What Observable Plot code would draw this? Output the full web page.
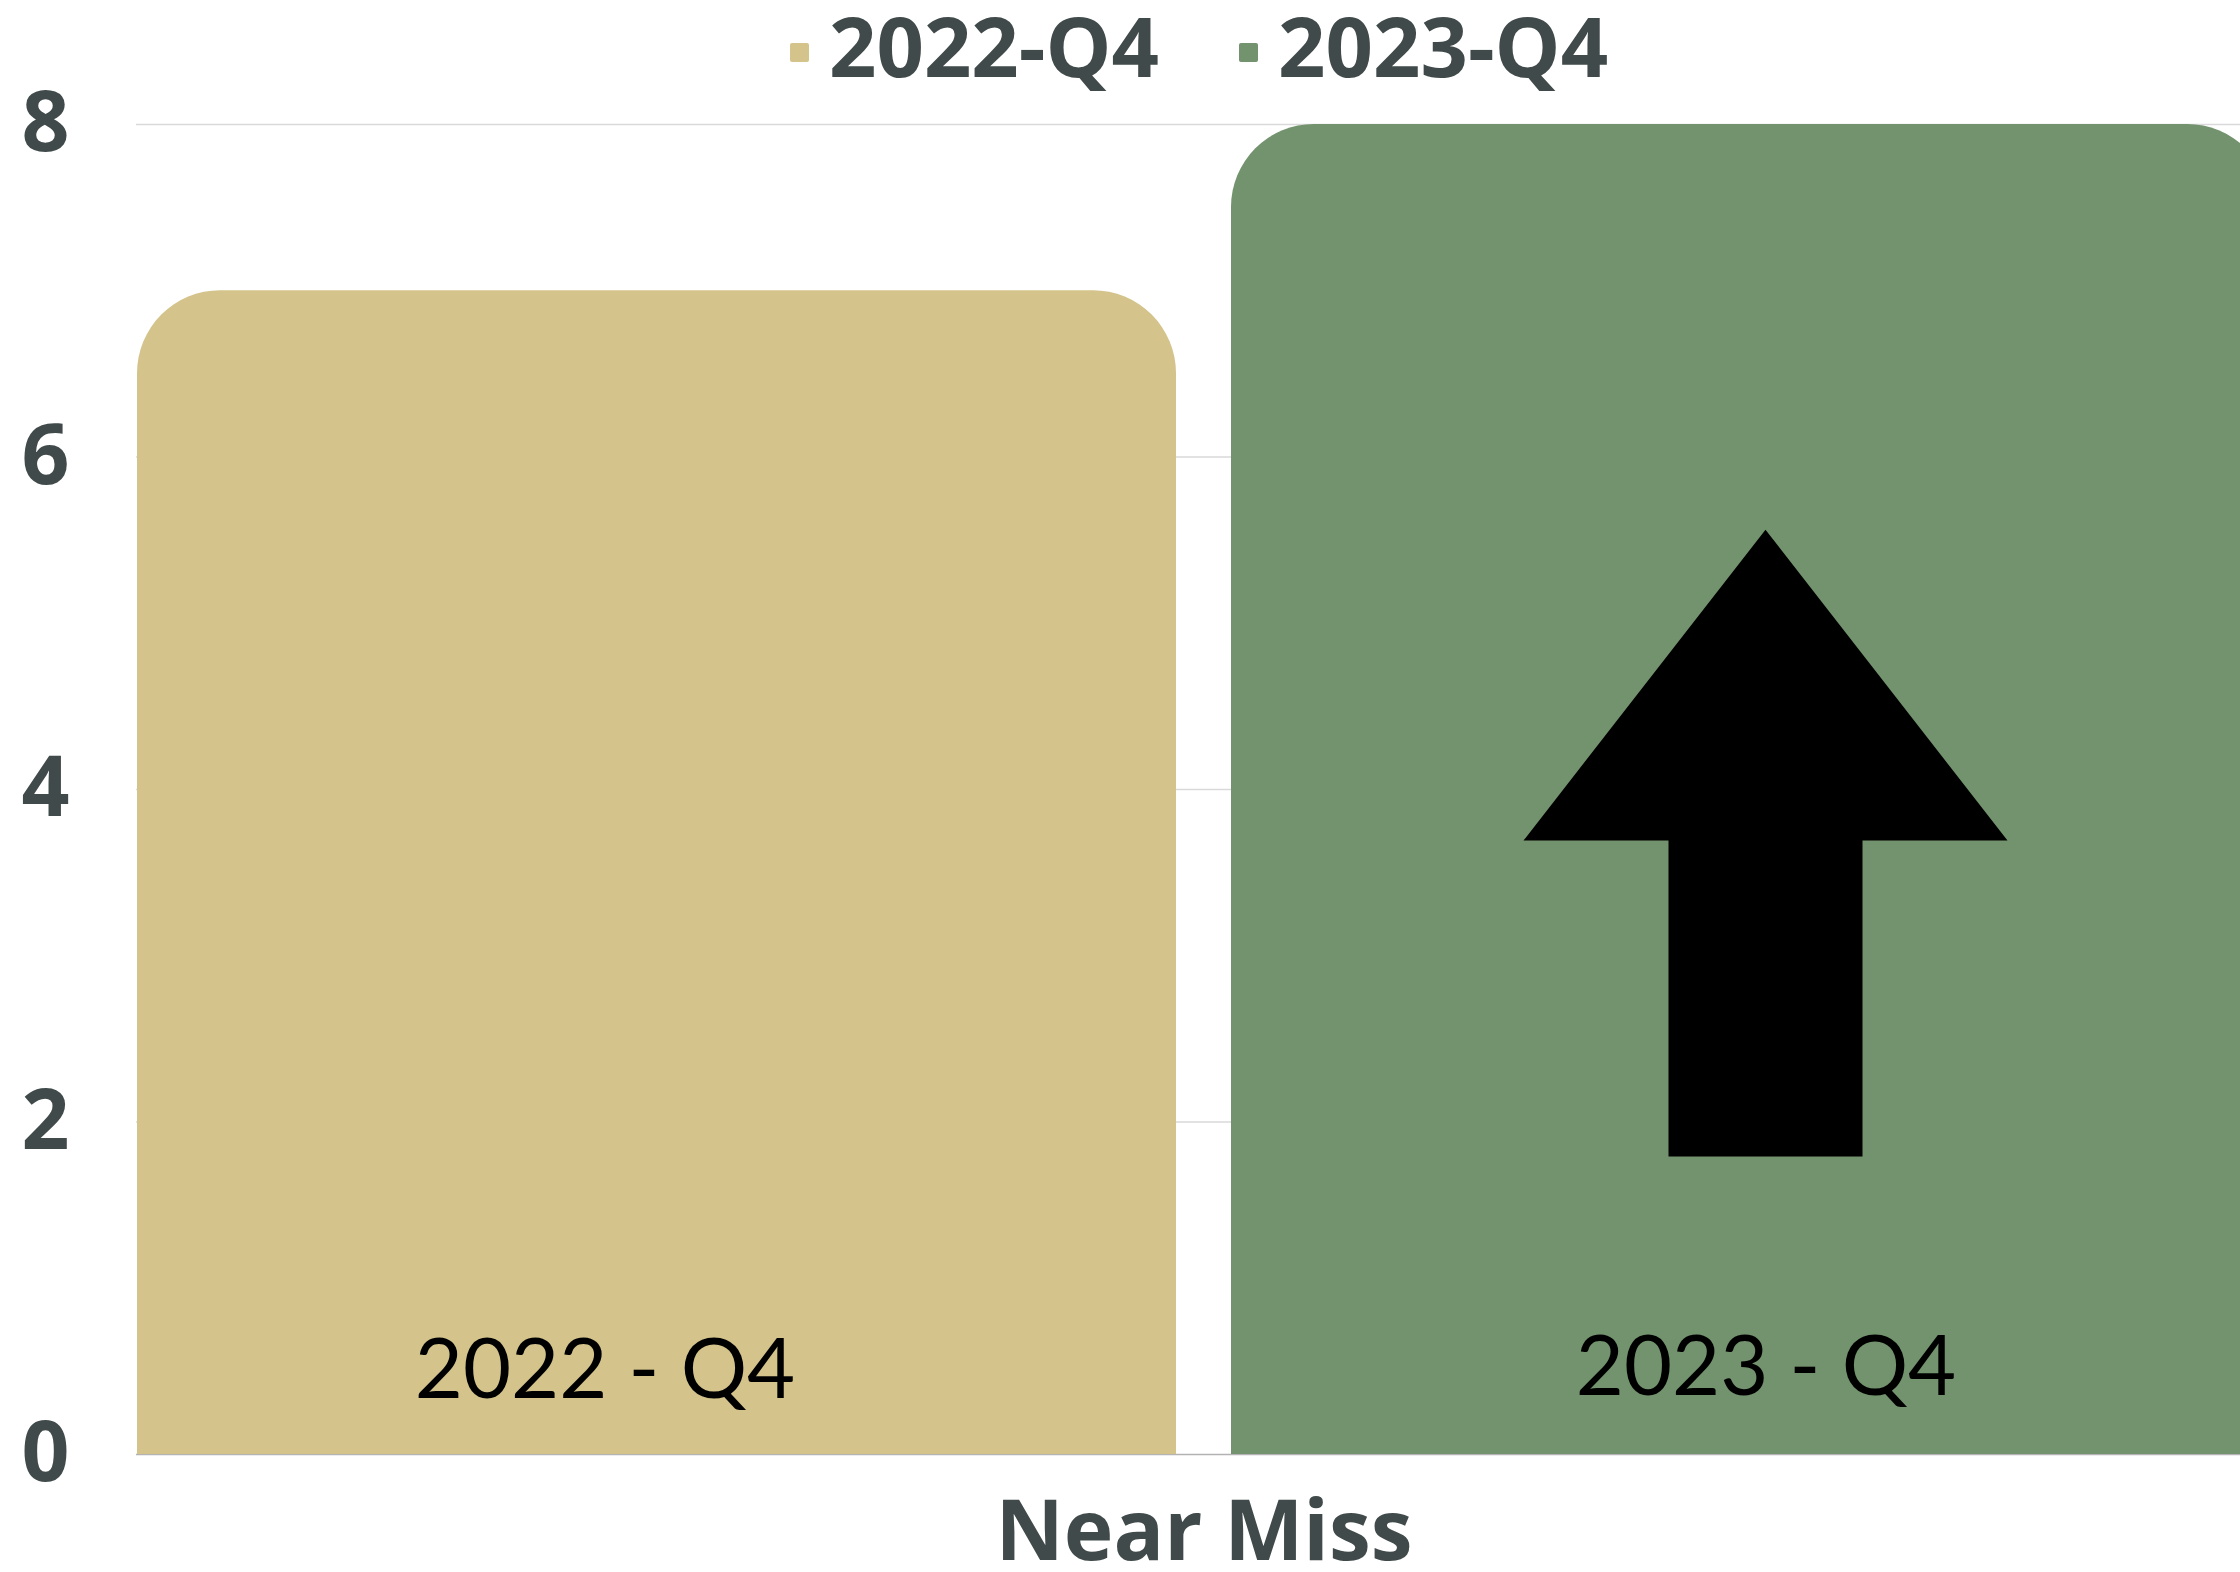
<!DOCTYPE html>
<html><head><meta charset="utf-8">
<script src="https://cdn.jsdelivr.net/npm/d3@7"></script>
<script src="https://cdn.jsdelivr.net/npm/@observablehq/plot@0.6"></script>
<style>
html,body{margin:0;padding:0;background:#fff;overflow:hidden;width:2240px;height:1572px;position:relative}
#chart{position:absolute;left:0;top:0}
#chart svg{max-width:none !important}
#legend{position:absolute;left:790px;top:3px;display:flex;align-items:center;font-family:"Open Sans";font-weight:700;font-size:83px;line-height:83px;color:#414a4a;white-space:nowrap;z-index:2}
.item{display:flex;align-items:center;margin-right:80px}
.sw{width:19px;height:19px;margin-right:20px;position:relative;top:8px;border-radius:2px}
</style></head>
<body><div id="chart"></div><div id="legend"></div>
<script>
const categories = ["Near Miss"];
const periods = ["2022-Q4", "2023-Q4"];
const values = [7, 8];
const barLabels = ["2022 - Q4", "2023 - Q4"];
const yTicks = [0, 2, 4, 6, 8];
const colors = ["#d4c38b", "#72936d"];
// up-arrow annotation levels (in y units)
const arrowTip = 5.56, arrowShoulder = 3.69, arrowBase = 1.79;

const table = periods.map((p, i) => ({category: categories[0], period: p, value: values[i], label: barLabels[i]}));

const arrowMark = Plot.dot([{category: categories[0], period: periods[1]}], {
  fx: "category", x: "period", y: () => arrowBase,
  render(index, scales, values, dimensions, context) {
    const xs = scales.x, y = scales.y;
    const bw = xs.bandwidth ? xs.bandwidth() : 0;
    const cx = xs(periods[1]) + bw / 2 + 15;
    const W = 242, S = 97;
    const pts = [[cx, y(arrowTip)], [cx + W, y(arrowShoulder)], [cx + S, y(arrowShoulder)], [cx + S, y(arrowBase)],
                 [cx - S, y(arrowBase)], [cx - S, y(arrowShoulder)], [cx - W, y(arrowShoulder)]];
    const g = d3.create("svg:g");
    g.append("path").attr("d", "M" + pts.map(p => p.join(",")).join("L") + "Z").attr("fill", "#000");
    return g.node();
  }
});

const chart = Plot.plot({
  width: 2272, height: 1572,
  marginTop: 124, marginBottom: 118, marginLeft: 136, marginRight: 1,
  style: {fontFamily: "Open Sans", overflow: "visible", maxWidth: "none", background: "transparent"},
  fx: {domain: categories, padding: 0, label: null},
  x: {domain: periods, paddingInner: 0.0502, paddingOuter: 0, axis: null},
  y: {domain: [0, 8], axis: null},
  color: {domain: periods, range: colors},
  marks: [
    Plot.gridY(yTicks.filter(t => t > 0), {stroke: "#d9d9d9", strokeOpacity: 1, strokeWidth: 1.5}),
    Plot.ruleY([0], {stroke: "#b3b3b3", strokeWidth: 1.5}),
    Plot.barY(table, {fx: "category", x: "period", y: "value", fill: "period", rx: 83}),
    Plot.barY(table, {fx: "category", x: "period", y1: 0, y2: d => d.value / 2, fill: "period"}),
    Plot.text(table.slice(0, 1), {fx: "category", x: "period", text: "label", frameAnchor: "bottom", lineAnchor: "bottom", dy: -57, dx: -52, fontFamily: "Lato", fontSize: 83, fill: "#000"}),
    Plot.text(table.slice(1, 2), {fx: "category", x: "period", text: "label", frameAnchor: "bottom", lineAnchor: "bottom", dy: -60, dx: 15, fontFamily: "Lato", fontSize: 83, fill: "#000"}),
    arrowMark,
    Plot.axisY({ticks: yTicks, tickSize: 0, tickPadding: 67, fontFamily: "Open Sans", fontSize: 84, fontWeight: 700, fill: "#414a4a", label: null}),
    Plot.axisFx({anchor: "bottom", tickSize: 0, tickPadding: 46, fontFamily: "Open Sans", fontSize: 84, fontWeight: 700, fill: "#414a4a", label: null})
  ]
});
document.getElementById("chart").appendChild(chart);

const legend = d3.select("#legend");
periods.forEach((p, i) => {
  const it = legend.append("div").attr("class", "item");
  it.append("div").attr("class", "sw").style("background", colors[i]);
  it.append("span").text(p);
});
</script>
</body></html>
